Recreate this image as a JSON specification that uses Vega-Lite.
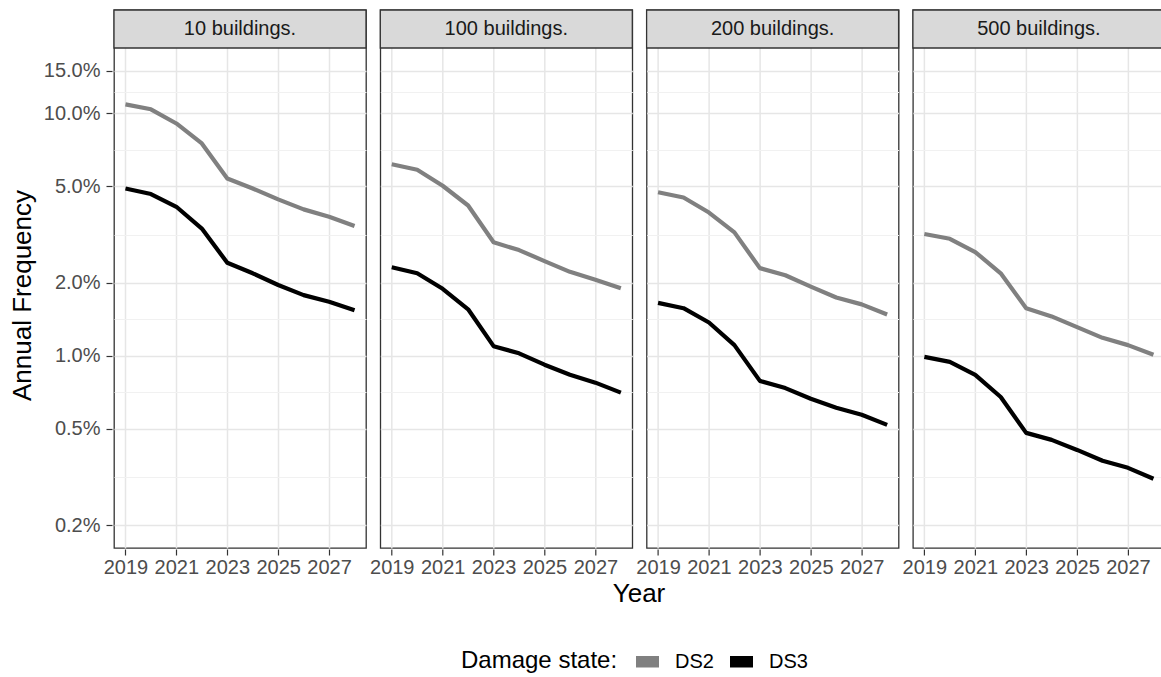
{
  "$schema": "https://vega.github.io/schema/vega-lite/v6.json",
  "background": "white",
  "padding": {"left": 9, "top": 8, "right": 2, "bottom": 5},
  "config": {
    "font": "Liberation Sans",
    "view": {"stroke": "#333333", "strokeWidth": 1.3},
    "axis": {
      "labelFont": "Liberation Sans", "labelFontSize": 20, "labelColor": "#4d4d4d",
      "titleFont": "Liberation Sans", "titleFontSize": 26, "titleFontWeight": "normal", "titleColor": "#000000",
      "tickColor": "#333333", "tickSize": 6, "tickWidth": 1.2, "domain": false
    }
  },
  "data": {
    "values": [
      {"building": "10 buildings.", "state": "DS2", "year": 2019, "freq": 0.109},
      {"building": "10 buildings.", "state": "DS2", "year": 2020, "freq": 0.104},
      {"building": "10 buildings.", "state": "DS2", "year": 2021, "freq": 0.0909},
      {"building": "10 buildings.", "state": "DS2", "year": 2022, "freq": 0.0752},
      {"building": "10 buildings.", "state": "DS2", "year": 2023, "freq": 0.0539},
      {"building": "10 buildings.", "state": "DS2", "year": 2024, "freq": 0.049},
      {"building": "10 buildings.", "state": "DS2", "year": 2025, "freq": 0.0442},
      {"building": "10 buildings.", "state": "DS2", "year": 2026, "freq": 0.0402},
      {"building": "10 buildings.", "state": "DS2", "year": 2027, "freq": 0.0375},
      {"building": "10 buildings.", "state": "DS2", "year": 2028, "freq": 0.0343},
      {"building": "10 buildings.", "state": "DS3", "year": 2019, "freq": 0.049},
      {"building": "10 buildings.", "state": "DS3", "year": 2020, "freq": 0.0465},
      {"building": "10 buildings.", "state": "DS3", "year": 2021, "freq": 0.0412},
      {"building": "10 buildings.", "state": "DS3", "year": 2022, "freq": 0.0335},
      {"building": "10 buildings.", "state": "DS3", "year": 2023, "freq": 0.0242},
      {"building": "10 buildings.", "state": "DS3", "year": 2024, "freq": 0.0219},
      {"building": "10 buildings.", "state": "DS3", "year": 2025, "freq": 0.0196},
      {"building": "10 buildings.", "state": "DS3", "year": 2026, "freq": 0.0178},
      {"building": "10 buildings.", "state": "DS3", "year": 2027, "freq": 0.0167},
      {"building": "10 buildings.", "state": "DS3", "year": 2028, "freq": 0.0154},
      {"building": "100 buildings.", "state": "DS2", "year": 2019, "freq": 0.0617},
      {"building": "100 buildings.", "state": "DS2", "year": 2020, "freq": 0.0586},
      {"building": "100 buildings.", "state": "DS2", "year": 2021, "freq": 0.0503},
      {"building": "100 buildings.", "state": "DS2", "year": 2022, "freq": 0.0417},
      {"building": "100 buildings.", "state": "DS2", "year": 2023, "freq": 0.0294},
      {"building": "100 buildings.", "state": "DS2", "year": 2024, "freq": 0.0273},
      {"building": "100 buildings.", "state": "DS2", "year": 2025, "freq": 0.0246},
      {"building": "100 buildings.", "state": "DS2", "year": 2026, "freq": 0.0222},
      {"building": "100 buildings.", "state": "DS2", "year": 2027, "freq": 0.0206},
      {"building": "100 buildings.", "state": "DS2", "year": 2028, "freq": 0.019},
      {"building": "100 buildings.", "state": "DS3", "year": 2019, "freq": 0.0232},
      {"building": "100 buildings.", "state": "DS3", "year": 2020, "freq": 0.0219},
      {"building": "100 buildings.", "state": "DS3", "year": 2021, "freq": 0.0189},
      {"building": "100 buildings.", "state": "DS3", "year": 2022, "freq": 0.01556},
      {"building": "100 buildings.", "state": "DS3", "year": 2023, "freq": 0.01096},
      {"building": "100 buildings.", "state": "DS3", "year": 2024, "freq": 0.01024},
      {"building": "100 buildings.", "state": "DS3", "year": 2025, "freq": 0.00919},
      {"building": "100 buildings.", "state": "DS3", "year": 2026, "freq": 0.00835},
      {"building": "100 buildings.", "state": "DS3", "year": 2027, "freq": 0.00775},
      {"building": "100 buildings.", "state": "DS3", "year": 2028, "freq": 0.00705},
      {"building": "200 buildings.", "state": "DS2", "year": 2019, "freq": 0.0473},
      {"building": "200 buildings.", "state": "DS2", "year": 2020, "freq": 0.045},
      {"building": "200 buildings.", "state": "DS2", "year": 2021, "freq": 0.039},
      {"building": "200 buildings.", "state": "DS2", "year": 2022, "freq": 0.0323},
      {"building": "200 buildings.", "state": "DS2", "year": 2023, "freq": 0.023},
      {"building": "200 buildings.", "state": "DS2", "year": 2024, "freq": 0.0215},
      {"building": "200 buildings.", "state": "DS2", "year": 2025, "freq": 0.0193},
      {"building": "200 buildings.", "state": "DS2", "year": 2026, "freq": 0.0174},
      {"building": "200 buildings.", "state": "DS2", "year": 2027, "freq": 0.0163},
      {"building": "200 buildings.", "state": "DS2", "year": 2028, "freq": 0.0148},
      {"building": "200 buildings.", "state": "DS3", "year": 2019, "freq": 0.01654},
      {"building": "200 buildings.", "state": "DS3", "year": 2020, "freq": 0.01572},
      {"building": "200 buildings.", "state": "DS3", "year": 2021, "freq": 0.01372},
      {"building": "200 buildings.", "state": "DS3", "year": 2022, "freq": 0.01107},
      {"building": "200 buildings.", "state": "DS3", "year": 2023, "freq": 0.00788},
      {"building": "200 buildings.", "state": "DS3", "year": 2024, "freq": 0.00736},
      {"building": "200 buildings.", "state": "DS3", "year": 2025, "freq": 0.00665},
      {"building": "200 buildings.", "state": "DS3", "year": 2026, "freq": 0.00611},
      {"building": "200 buildings.", "state": "DS3", "year": 2027, "freq": 0.00571},
      {"building": "200 buildings.", "state": "DS3", "year": 2028, "freq": 0.00519},
      {"building": "500 buildings.", "state": "DS2", "year": 2019, "freq": 0.0318},
      {"building": "500 buildings.", "state": "DS2", "year": 2020, "freq": 0.0304},
      {"building": "500 buildings.", "state": "DS2", "year": 2021, "freq": 0.0268},
      {"building": "500 buildings.", "state": "DS2", "year": 2022, "freq": 0.0219},
      {"building": "500 buildings.", "state": "DS2", "year": 2023, "freq": 0.01572},
      {"building": "500 buildings.", "state": "DS2", "year": 2024, "freq": 0.01454},
      {"building": "500 buildings.", "state": "DS2", "year": 2025, "freq": 0.01313},
      {"building": "500 buildings.", "state": "DS2", "year": 2026, "freq": 0.01186},
      {"building": "500 buildings.", "state": "DS2", "year": 2027, "freq": 0.01107},
      {"building": "500 buildings.", "state": "DS2", "year": 2028, "freq": 0.0101},
      {"building": "500 buildings.", "state": "DS3", "year": 2019, "freq": 0.0099},
      {"building": "500 buildings.", "state": "DS3", "year": 2020, "freq": 0.00944},
      {"building": "500 buildings.", "state": "DS3", "year": 2021, "freq": 0.00835},
      {"building": "500 buildings.", "state": "DS3", "year": 2022, "freq": 0.00676},
      {"building": "500 buildings.", "state": "DS3", "year": 2023, "freq": 0.00481},
      {"building": "500 buildings.", "state": "DS3", "year": 2024, "freq": 0.0045},
      {"building": "500 buildings.", "state": "DS3", "year": 2025, "freq": 0.00409},
      {"building": "500 buildings.", "state": "DS3", "year": 2026, "freq": 0.00369},
      {"building": "500 buildings.", "state": "DS3", "year": 2027, "freq": 0.00345},
      {"building": "500 buildings.", "state": "DS3", "year": 2028, "freq": 0.00311}
    ]
  },
  "facet": {
    "column": {
      "field": "building", "type": "nominal",
      "sort": ["10 buildings.", "100 buildings.", "200 buildings.", "500 buildings."],
      "title": "Year",
      "header": {"labels": false, "titleOrient": "bottom", "titleFont": "Liberation Sans", "titleFontSize": 26, "titleFontWeight": "normal", "titleColor": "#000000", "titlePadding": -6}
    }
  },
  "spacing": 10.3,
  "spec": {
    "width": 252,
    "height": 538,
    "layer": [
      {
        "mark": {"type": "line", "strokeWidth": 4.2, "strokeJoin": "round"},
        "encoding": {
          "x": {
            "field": "year", "type": "quantitative", "title": null,
            "scale": {"domain": [2018.55, 2028.45], "nice": false, "zero": false},
            "axis": {
              "values": [2019, 2020, 2021, 2022, 2023, 2024, 2025, 2026, 2027, 2028],
              "labelExpr": "datum.value % 2 == 1 ? format(datum.value, 'd') : ''",
              "labelOverlap": false, "labelFlush": false, "labelBound": false,
              "labelPadding": 2,
              "grid": true,
              "gridColor": {"condition": {"test": "datum.value % 2 == 0", "value": "#f1f1f1"}, "value": "#e6e6e6"},
              "gridWidth": {"condition": {"test": "datum.value % 2 == 0", "value": 1}, "value": 1.5},
              "tickOpacity": {"condition": {"test": "datum.value % 2 == 0", "value": 0}, "value": 1}
            }
          },
          "y": {
            "field": "freq", "type": "quantitative", "title": "Annual Frequency",
            "scale": {"type": "log", "domain": [0.001611, 0.26712], "nice": false},
            "axis": {
              "values": [0.002, 0.003162, 0.005, 0.007071, 0.01, 0.014142, 0.02, 0.031623, 0.05, 0.070711, 0.1, 0.122474, 0.15],
              "labelExpr": "indexof([0.002, 0.005, 0.01, 0.02, 0.05, 0.1, 0.15], datum.value) >= 0 ? format(datum.value, '.1%') : ''",
              "labelOverlap": false, "labelFlush": false, "labelBound": false,
              "labelPadding": 6, "titlePadding": 8, "titleY": 285,
              "grid": true,
              "gridColor": {"condition": {"test": "indexof([0.002, 0.005, 0.01, 0.02, 0.05, 0.1, 0.15], datum.value) < 0", "value": "#f1f1f1"}, "value": "#e6e6e6"},
              "gridWidth": {"condition": {"test": "indexof([0.002, 0.005, 0.01, 0.02, 0.05, 0.1, 0.15], datum.value) < 0", "value": 1}, "value": 1.5},
              "tickOpacity": {"condition": {"test": "indexof([0.002, 0.005, 0.01, 0.02, 0.05, 0.1, 0.15], datum.value) < 0", "value": 0}, "value": 1}
            }
          },
          "color": {
            "field": "state", "type": "nominal",
            "scale": {"domain": ["DS2", "DS3"], "range": ["#808080", "#000000"]},
            "legend": {
              "title": "Damage state:", "orient": "none", "legendX": 347, "legendY": 640, "direction": "horizontal", "titleOrient": "left",
              "titleFontSize": 24, "titleFontWeight": "normal", "titleColor": "#000000", "titleFont": "Liberation Sans",
              "labelFontSize": 20, "labelColor": "#000000", "labelFont": "Liberation Sans",
              "symbolType": "M-1,-0.5H1V0.5H-1Z", "symbolSize": 529, "symbolStrokeWidth": 0,
              "labelOffset": 16, "columnPadding": 16, "titlePadding": 18,
              "encode": {"symbols": {"update": {"fill": {"scale": "color", "field": "value"}, "strokeWidth": {"value": 0}}}}
            }
          }
        }
      },
      {
        "transform": [{"filter": "datum.year == 2019 && datum.state == 'DS2'"}],
        "mark": {"type": "rect", "fill": "#d9d9d9", "stroke": "#333333", "strokeWidth": 1.3},
        "encoding": {
          "x": {"datum": 2018.55, "type": "quantitative", "title": null, "scale": {"domain": [2018.55, 2028.45], "nice": false, "zero": false}},
          "x2": {"datum": 2028.45},
          "y": {"datum": 0.18616, "type": "quantitative", "title": "Annual Frequency", "scale": {"type": "log", "domain": [0.001611, 0.26712], "nice": false}},
          "y2": {"datum": 0.26712}
        }
      },
      {
        "transform": [{"filter": "datum.year == 2019 && datum.state == 'DS2'"}],
        "mark": {"type": "text", "fontSize": 20, "color": "#1a1a1a", "font": "Liberation Sans", "baseline": "middle"},
        "encoding": {
          "text": {"field": "building", "type": "nominal"},
          "x": {"datum": 2023.5, "type": "quantitative", "title": null, "scale": {"domain": [2018.55, 2028.45], "nice": false, "zero": false}},
          "y": {"datum": 0.223, "type": "quantitative", "title": "Annual Frequency", "scale": {"type": "log", "domain": [0.001611, 0.26712], "nice": false}}
        }
      }
    ]
  }
}
